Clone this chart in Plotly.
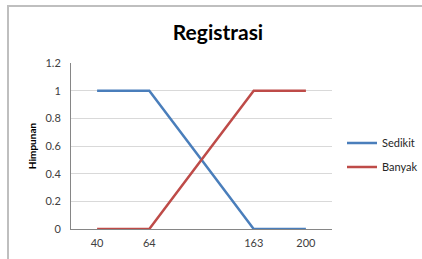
import plotly.graph_objects as go

categories = ["40", "64", "", "163", "200"]
sedikit = [1, 1, 0.5, 0, 0]
banyak = [0, 0, 0.5, 1, 1]
y_ticks = [0, 0.2, 0.4, 0.6, 0.8, 1, 1.2]

xpos = list(range(len(categories)))

fig = go.Figure()
fig.add_trace(go.Scatter(x=xpos, y=sedikit, mode="lines", name="Sedikit", legendgroup="a",
                         line=dict(color="#4A7EBB", width=2.5)))
fig.add_trace(go.Scatter(x=xpos, y=banyak, mode="lines", name="Banyak", legendgroup="b",
                         line=dict(color="#BE4B48", width=2.5)))

font_family = "Lato, 'Open Sans', sans-serif"

fig.update_layout(
    width=422, height=259,
    margin=dict(l=71, r=90, t=63, b=30),
    paper_bgcolor="white", plot_bgcolor="white",
    title=dict(text="<b>Registrasi</b>", x=218 / 422, xref="container", xanchor="center",
               y=1 - 33 / 259, yref="container", yanchor="middle",
               font=dict(family=font_family, size=21, color="black")),
    font=dict(family=font_family, size=11, color="#404040"),
    showlegend=True,
    legend=dict(x=342 / 422, xref="container", xanchor="left",
                y=1 - 155 / 259, yref="container", yanchor="middle",
                font=dict(size=11, color="#262626"), itemwidth=30,
                tracegroupgap=5, bgcolor="rgba(0,0,0,0)"),
    xaxis=dict(range=[-0.5, len(categories) - 0.5], tickmode="array",
               tickvals=[i for i, c in enumerate(categories) if c],
               ticktext=[c for c in categories if c],
               showgrid=False, zeroline=False, showline=True, linecolor="#868686",
               linewidth=1, ticks="", ticklen=0, ticklabelstandoff=4,
               fixedrange=True, automargin=False),
    yaxis=dict(range=[0, 1.2], tickmode="array", tickvals=y_ticks,
               ticktext=[f"{v:g}" for v in y_ticks],
               showgrid=True, gridcolor="#D9D9D9", gridwidth=1, zeroline=False,
               showline=True, linecolor="#868686", linewidth=1,
               title=dict(text="<b>Himpunan</b>", font=dict(size=10, color="black"), standoff=6),
               ticks="", ticklabelstandoff=7, automargin=False, fixedrange=True),
    shapes=[dict(type="rect", xref="paper", yref="paper",
                 x0=(8 - 71) / 261, x1=(440 - 71) / 261,
                 y0=(229 - 280) / 166, y1=(229 - 6) / 166,
                 line=dict(color="#BFBFBF", width=2), fillcolor="rgba(0,0,0,0)", layer="below")],
)

fig.write_html("out.html", config={"displayModeBar": False},
               post_script="document.body.style.margin='0';")
